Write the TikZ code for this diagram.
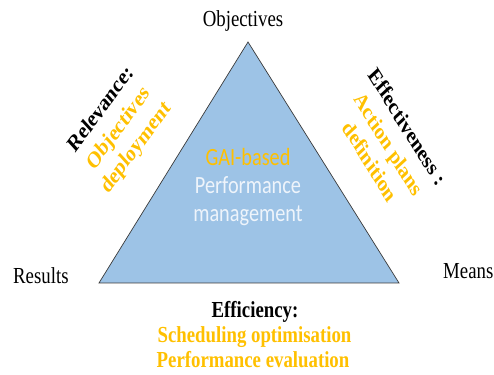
\documentclass[tikz,border=0pt]{standalone}
\usepackage{fontspec}
\setmainfont{Liberation Serif}
\newfontfamily\calib{Carlito}
\definecolor{gold}{HTML}{FFC000}
\definecolor{trifill}{HTML}{9DC3E6}
\definecolor{paleblue}{HTML}{EEF4FB}
\definecolor{edge}{HTML}{3A3A3A}
\begin{document}
\begin{tikzpicture}[x=1pt,y=1pt,
  vertexlbl/.style={font=\fontsize{18.8}{22}\selectfont, inner sep=0pt, anchor=base, transform shape},
  boldlbl/.style={font=\fontsize{18.8}{22}\selectfont\bfseries, inner sep=0pt, anchor=base, transform shape, text=gold},
  sidelbl/.style={font=\fontsize{18.8}{23.5}\selectfont\bfseries, align=center, inner sep=0pt, text=gold, transform shape},
  centrelbl/.style={font=\calib\fontsize{20.3}{24}\selectfont, inner sep=0pt, anchor=base, text=paleblue, transform shape}]
\useasboundingbox (0,0) rectangle (494,374);
\begin{scope}[yscale=1.22]
\coordinate (top) at (248,272.1);
\coordinate (left) at (99,74.6);
\coordinate (right) at (399,74.6);
\draw[fill=trifill, draw=edge, line width=0.7pt] (left) -- (right) -- (top) -- cycle;
\node[vertexlbl] (obj) at (243,285.2) {Objectives};
\node[vertexlbl, anchor=base west] (res) at (13,73.8) {Results};
\node[vertexlbl, anchor=base west] (means) at (443,77.9) {Means};
\node[centrelbl, text=gold] (gai) at (248,171.3) {GAI-based};
\node[centrelbl] (perf) at (248,148.1) {Performance};
\node[centrelbl] (mgmt) at (248,125.4) {management};
\node[sidelbl, rotate=48] (relev) at (119,200.8) {{\color{black}Relevance:}\\Objectives\\deployment};
\node[sidelbl, rotate=-53] (effect) at (389,188.5) {{\color{black}Effectiveness :}\\Action plans\\definition};
\node[boldlbl, text=black] (effic) at (255,46.1) {Efficiency:};
\node[boldlbl] (sched) at (254.5,25.7) {Scheduling optimisation};
\node[boldlbl] (evalu) at (253,5.2) {Performance evaluation};
\end{scope}
\end{tikzpicture}
\end{document}
